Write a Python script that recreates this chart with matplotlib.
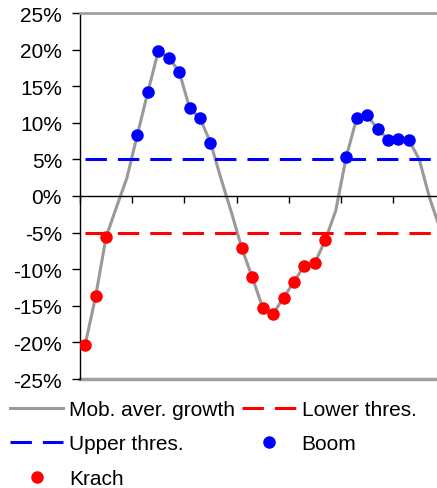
import numpy as np
import matplotlib
matplotlib.use("Agg")
import matplotlib.pyplot as plt
from matplotlib.ticker import FuncFormatter

plt.rcParams['font.family'] = ['Liberation Sans', 'DejaVu Sans']

# moving average growth, in percent
growth = [-20.3, -13.7, -5.6, -1.5, 2.5, 8.4, 14.2, 19.8, 18.9, 17.0,
          12.0, 10.6, 7.3, 2.4, -2.2, -7.15, -11.1, -15.25, -16.07, -13.9,
          -11.7, -9.5, -9.15, -6.0, -2.0, 5.3, 10.6, 11.0, 9.2, 7.7,
          7.8, 7.65, 5.0, -0.3, -4.5]
upper_thres = 5.0
lower_thres = -5.0
y_ticks = [-25, -20, -15, -10, -5, 0, 5, 10, 15, 20, 25]

x = np.arange(len(growth))
g = np.array(growth)
boom = np.where(g > upper_thres, g, np.nan)
krach = np.where(g < lower_thres, g, np.nan)

fig = plt.figure(figsize=(4.37, 4.89), dpi=100)
ax = fig.add_axes([80 / 437, 1 - 380 / 489, 1 - 80 / 437, (380 - 14) / 489])

gray = '#999999'
l_mob, = ax.plot(x, g, color=gray, lw=2.2, zorder=2, label='Mob. aver. growth')
l_low, = ax.plot(x, np.full(len(x), lower_thres), color='#FF0000', lw=2.2,
                 dashes=(7, 3.6), zorder=3, label='Lower thres.')
l_up, = ax.plot(x, np.full(len(x), upper_thres), color='#0000FF', lw=2.2,
                dashes=(7, 3.6), zorder=3, label='Upper thres.')
l_boom, = ax.plot(x, boom, 'o', color='#0000FF', ms=8, zorder=4, label='Boom')
l_krach, = ax.plot(x, krach, 'o', color='#FF0000', ms=8, zorder=4, label='Krach')

ax.set_xlim(-0.5, 33.7)
ax.set_ylim(-25, 25)
ax.set_yticks(y_ticks)
ax.yaxis.set_major_formatter(FuncFormatter(lambda v, p: f'{int(v)}%'))
ax.tick_params(axis='y', direction='out', length=6, width=1, pad=7,
               labelsize=15, colors='black')

# category axis crosses at zero, ticks between categories
ax.spines['bottom'].set_position(('data', 0))
ax.spines['bottom'].set_color('black')
ax.spines['bottom'].set_linewidth(1)
ax.spines['bottom'].set_zorder(5)
ax.set_xticks(np.arange(-0.5, 34, 5))
ax.set_xticklabels([])
ax.tick_params(axis='x', direction='out', length=5, width=1, colors='black')
ax.spines['left'].set_color('black')
ax.spines['left'].set_linewidth(1)
ax.spines['right'].set_visible(False)
ax.spines['top'].set_color('#A0A0A0')
ax.spines['top'].set_linewidth(2)
ax.axhline(-25, color='#A0A0A0', lw=2.5, clip_on=False, zorder=1)

handles = [l_mob, l_up, l_krach, l_low, l_boom]
fig.legend(handles=handles, labels=[h.get_label() for h in handles],
           loc='upper left', bbox_to_anchor=(10 / 437, 1 - 401 / 489),
           ncol=2, frameon=False, fontsize=15, handlelength=2.55,
           handletextpad=0.29, columnspacing=0.35, labelspacing=0.74,
           borderpad=0, borderaxespad=0)

fig.savefig('out.png', dpi=100)
